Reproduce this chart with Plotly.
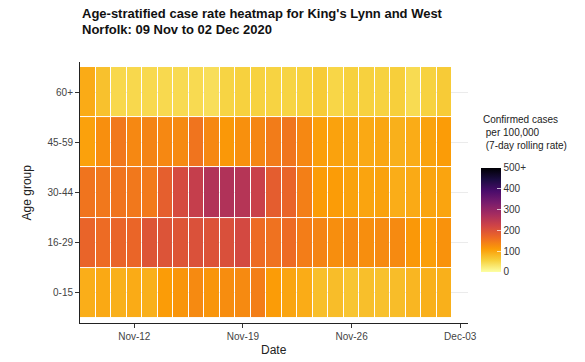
import pandas as pd
import plotly.graph_objects as go

dates = pd.date_range("2020-11-09", "2020-12-02", freq="D")
age_groups = ["0-15", "16-29", "30-44", "45-59", "60+"]

rate_0_15 = [92, 97, 90, 95, 90, 110, 118, 130, 118, 127, 130, 143, 110, 101, 94, 74, 76, 68, 74, 72, 76, 83, 90, 90]
rate_16_29 = [174, 165, 174, 172, 196, 198, 196, 202, 199, 204, 214, 165, 157, 165, 144, 137, 126, 132, 126, 130, 130, 115, 108, 121]
rate_30_44 = [155, 150, 155, 150, 148, 182, 212, 235, 260, 263, 257, 230, 184, 174, 142, 110, 110, 104, 102, 104, 93, 96, 102, 102]
rate_45_59 = [105, 125, 150, 132, 137, 132, 130, 155, 132, 115, 123, 135, 146, 153, 132, 107, 104, 100, 97, 100, 90, 94, 104, 110]
rate_60_plus = [95, 72, 47, 47, 46, 46, 45, 45, 40, 52, 55, 54, 53, 52, 54, 62, 50, 55, 55, 54, 58, 44, 54, 62]

tick_dates = ["2020-11-12", "2020-11-19", "2020-11-26", "2020-12-03"]
cbar_vals = [0, 100, 200, 300, 400, 500]
cbar_text = ["0", "100", "200", "300", "400", "500+"]

title_lines = ["Age-stratified case rate heatmap for King's Lynn and West",
               "Norfolk: 09 Nov to 02 Dec 2020"]

z = [rate_0_15, rate_16_29, rate_30_44, rate_45_59, rate_60_plus]

FONT = "Liberation Sans, Arial, sans-serif"

fig = go.Figure(
    go.Heatmap(
        x=dates,
        y=age_groups,
        z=z,
        zmin=0,
        zmax=500,
        colorscale="Inferno_r",
        xgap=1,
        ygap=1,
        colorbar=dict(
            x=1.033,
            xanchor="left",
            xpad=0,
            y=0.395,
            yanchor="middle",
            ypad=0,
            len=104,
            lenmode="pixels",
            thickness=20,
            outlinewidth=0,
            tickvals=cbar_vals,
            ticktext=cbar_text,
            ticks="inside",
            ticklen=4,
            tickcolor="rgba(255,255,255,0.7)",
            tickfont=dict(family=FONT, size=10, color="#333333"),
        ),
    )
)

annotations = [
    dict(text="<b>%s</b>" % title_lines[0], x=0, xref="paper", xanchor="left",
         y=1.184, yref="paper", yanchor="middle", showarrow=False,
         font=dict(family=FONT, size=13, color="#111111")),
    dict(text="<b>%s</b>" % title_lines[1], x=0, xref="paper", xanchor="left",
         y=1.126, yref="paper", yanchor="middle", showarrow=False,
         font=dict(family=FONT, size=13, color="#111111")),
    dict(text="Date", x=0.5, xref="paper", y=-0.103, yref="paper",
         yanchor="middle", showarrow=False,
         font=dict(family=FONT, size=12, color="#222222")),
    dict(text="Age group", x=-0.16, xref="paper", y=0.5, yref="paper",
         textangle=-90, showarrow=False,
         font=dict(family=FONT, size=12, color="#222222")),
    dict(text="Confirmed cases<br> per 100,000<br> (7-day rolling rate)",
         x=1.033, xref="paper", xanchor="left", y=0.808, yref="paper",
         yanchor="top", align="left", showarrow=False,
         font=dict(family=FONT, size=10, color="#222222")),
]

fig.update_layout(
    width=585,
    height=362,
    margin=dict(l=80, r=117, t=62, b=39),
    paper_bgcolor="white",
    plot_bgcolor="white",
    font=dict(family=FONT, color="#333333"),
    xaxis=dict(
        type="date",
        range=["2020-11-08 12:00", "2020-12-03 12:00"],
        tickvals=tick_dates,
        tickformat="%b-%d",
        ticks="outside",
        ticklen=4,
        tickcolor="#333333",
        tickfont=dict(family=FONT, size=10, color="#444444"),
        showline=True,
        linecolor="#222222",
        linewidth=1,
        showgrid=False,
        zeroline=False,
    ),
    yaxis=dict(
        type="category",
        categoryorder="array",
        categoryarray=age_groups,
        range=[-0.6, 4.6],
        ticks="outside",
        ticklen=4,
        tickcolor="#333333",
        tickfont=dict(family=FONT, size=10, color="#444444"),
        showline=True,
        linecolor="#222222",
        linewidth=1,
        showgrid=True,
        gridcolor="#ebebeb",
        gridwidth=1,
        zeroline=False,
    ),
    annotations=annotations,
)

fig.write_html("out.html", config={"displayModeBar": False},
               post_script="document.body.style.margin='0';")
